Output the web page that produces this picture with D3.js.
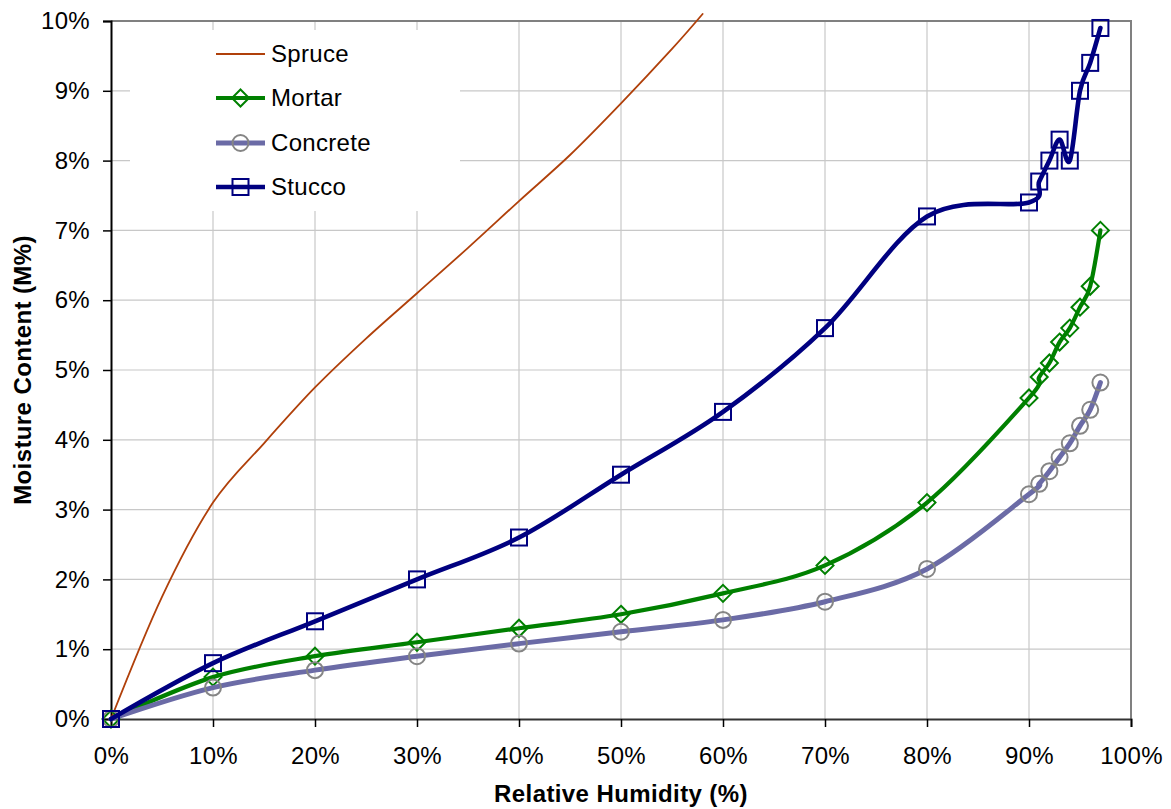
<!DOCTYPE html>
<html><head><meta charset="utf-8">
<script src="https://cdn.jsdelivr.net/npm/d3@7"></script>
<style>
html,body{margin:0;padding:0;background:#fff;}
text{font-family:Arial,"Liberation Sans",sans-serif;fill:#000;}
</style></head>
<body><svg id="c" width="1171" height="809"></svg>
<script>
const xTicks = [0,10,20,30,40,50,60,70,80,90,100];
const yTicks = [0,1,2,3,4,5,6,7,8,9,10];
const rhFine = [0,10,20,30,40,50,60,70,80,90,91,92,93,94,95,96,97];
const mortar   = [0,0.6,0.9,1.1,1.3,1.5,1.8,2.2,3.1,4.6,4.9,5.1,5.4,5.6,5.9,6.2,7.0];
const concrete = [0,0.45,0.7,0.9,1.08,1.25,1.42,1.68,2.15,3.22,3.37,3.55,3.75,3.95,4.2,4.43,4.82];
const stucco   = [0,0.8,1.4,2.0,2.6,3.5,4.4,5.6,7.2,7.4,7.7,8.0,8.3,8.0,9.0,9.4,9.9];
const spruceRH = [0,5,10,15,20,25,30,35,40,45,50,55,58];
const spruce   = [0,1.75,3.1,3.95,4.75,5.45,6.1,6.75,7.42,8.08,8.82,9.6,10.1];
const legendNames = ["Spruce","Mortar","Concrete","Stucco"];

const L=111, R=1131, T=21, B=719;
const svg = d3.select("#c");
const x = d3.scaleLinear().domain([0,100]).range([L,R]);
const y = d3.scaleLinear().domain([0,10]).range([B,T]);

const g = svg.append("g");
g.selectAll(".vg").data(xTicks.slice(1,-1)).join("line")
 .attr("x1",d=>x(d)).attr("x2",d=>x(d)).attr("y1",T).attr("y2",B)
 .attr("stroke","#c8c8c8").attr("stroke-width",1.2);
g.selectAll(".hg").data(yTicks.slice(1,-1)).join("line")
 .attr("y1",d=>y(d)).attr("y2",d=>y(d)).attr("x1",L).attr("x2",R)
 .attr("stroke","#c8c8c8").attr("stroke-width",1.2);
svg.append("path").attr("d",`M${L},${T}H${R}V${B}`).attr("fill","none")
 .attr("stroke","#808080").attr("stroke-width",2);

const xa = svg.append("g").attr("transform",`translate(0,${B})`)
 .call(d3.axisBottom(x).tickValues(xTicks).tickFormat(d=>d+"%").tickSize(8).tickPadding(20));
const ya = svg.append("g").attr("transform",`translate(${L},0)`)
 .call(d3.axisLeft(y).tickValues(yTicks).tickFormat(d=>d+"%").tickSize(8).tickPadding(13));
[xa,ya].forEach(a=>{
  a.select(".domain").attr("stroke","#000").attr("stroke-width",2);
  a.selectAll(".tick line").attr("stroke","#000").attr("stroke-width",1.5);
  a.selectAll("text").style("font-size","24px").attr("fill","#000").style("letter-spacing","0.3px");
});
xa.select(".domain").attr("stroke","#333");

svg.append("rect").attr("x",130).attr("y",30).attr("width",330).attr("height",181).attr("fill","#fff");

const line = d3.line().curve(d3.curveCatmullRom.alpha(0));
function pts(xs,ys){return xs.map((d,i)=>[x(d),y(ys[i])]);}

const series = [
 {name:"Spruce", xs:spruceRH, ys:spruce, color:"#b0400a", w:1.8, marker:null},
 {name:"Mortar", xs:rhFine, ys:mortar, color:"#008000", w:4.2, marker:"diamond", mcolor:"#008000"},
 {name:"Concrete", xs:rhFine, ys:concrete, color:"#6b6ba6", w:5, marker:"circle", mcolor:"#858585"},
 {name:"Stucco", xs:rhFine, ys:stucco, color:"#000080", w:4.6, marker:"square", mcolor:"#000080"}
];

function drawMarker(sel, type, color){
  if(type==="diamond"){
    sel.append("path").attr("d","M0,-8.5L8.5,0L0,8.5L-8.5,0Z").attr("fill","none").attr("stroke",color).attr("stroke-width",2);
  } else if(type==="circle"){
    sel.append("circle").attr("r",8).attr("fill","none").attr("stroke",color).attr("stroke-width",2);
  } else if(type==="square"){
    sel.append("rect").attr("x",-8).attr("y",-8).attr("width",16).attr("height",16).attr("fill","none").attr("stroke",color).attr("stroke-width",2);
  }
}

series.forEach(s=>{
  const p = pts(s.xs,s.ys);
  svg.append("path").attr("d",line(p)).attr("fill","none").attr("stroke",s.color)
    .attr("stroke-width",s.w).attr("stroke-linejoin","round").attr("stroke-linecap","round");
  if(s.marker){
    p.forEach(q=>{
      const m = svg.append("g").attr("transform",`translate(${q[0]},${q[1]})`);
      drawMarker(m,s.marker,s.mcolor);
    });
  }
});

const ly = [54,98,143,187];
series.forEach((s,i)=>{
  const gy = ly[i];
  svg.append("line").attr("x1",216).attr("x2",265).attr("y1",gy).attr("y2",gy)
    .attr("stroke",s.color).attr("stroke-width",s.w);
  if(s.marker){
    const m = svg.append("g").attr("transform",`translate(240.5,${gy})`);
    drawMarker(m,s.marker,s.mcolor);
  }
  svg.append("text").attr("x",271).attr("y",gy).attr("dy","0.35em")
    .style("font-size","24px").style("letter-spacing","0.3px").text(legendNames[i]);
});

svg.append("text").attr("x",(L+R)/2).attr("y",802).attr("text-anchor","middle")
 .style("font-size","24px").style("font-weight","bold").style("letter-spacing","0.4px").text("Relative Humidity (%)");
svg.append("text").attr("transform",`translate(31,${(T+B)/2}) rotate(-90)`).attr("text-anchor","middle")
 .style("font-size","24px").style("font-weight","bold").style("letter-spacing","0.4px").text("Moisture Content (M%)");
</script></body></html>
